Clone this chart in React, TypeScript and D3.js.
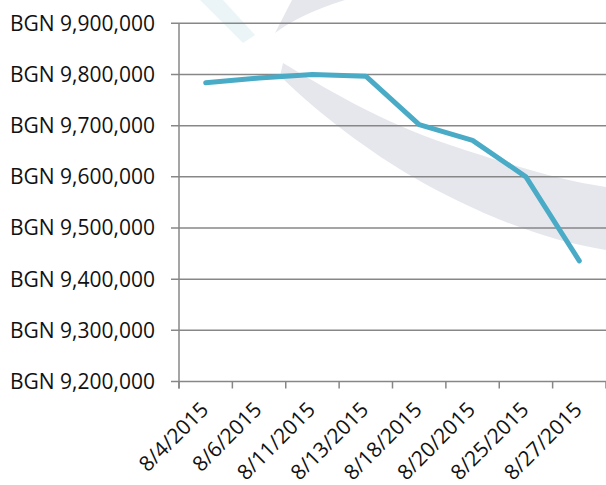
import * as d3 from "d3";

const DATES = [
	"8/4/2015",
	"8/6/2015",
	"8/11/2015",
	"8/13/2015",
	"8/18/2015",
	"8/20/2015",
	"8/25/2015",
	"8/27/2015",
];
const BALANCES = [9783600, 9793000, 9800000, 9796700, 9702000, 9671300, 9600000, 9435800];
const Y_TICKS = [9200000, 9300000, 9400000, 9500000, 9600000, 9700000, 9800000, 9900000];

const W = 606;
const H = 485;
const FONT = "'Open Sans', sans-serif";

export default function App() {
	const margin = { top: 23.3, right: 0, bottom: 103.5, left: 179 };

	const x = d3.scaleBand<string>()
		.domain(DATES)
		.range([margin.left, W - margin.right])
		.paddingInner(0)
		.paddingOuter(0);

	const y = d3.scaleLinear()
		.domain([9200000, 9900000])
		.range([H - margin.bottom, margin.top]);

	const fmt = d3.format(",");
	const line = d3.line<number>()
		.x((_, i) => x(DATES[i])! + x.bandwidth() / 2)
		.y(d => y(d));

	const axisY = y(9200000);
	// tick marks sit between categories (band edges)
	const bandEdges = DATES.map(d => x(d)!).concat([x(DATES[DATES.length - 1])! + x.bandwidth()]);

	return (
		<svg width={W} height={H} style={{ position: "absolute", left: 0, top: 0, background: "#fff" }}>
			{/* faint logo watermark behind the plot */}
			<g>
				<path
					d="M283,63 C320,85 380,122 450,145 S560,180 606,187 L606,250 C540,240 470,210 413,177 C370,152 320,115 280,76 Z"
					fill="#e6e7ed"
				/>
				<path d="M275,33 L292,0 L345,0 Q300,14 275,33 Z" fill="#e6e7ed" />
				<path d="M200,0 L223,0 L255,35 L243,43 Z" fill="#ebf5f7" />
			</g>

			{/* gridlines */}
			{Y_TICKS.map(t => (
				<line
					key={t}
					x1={margin.left - 8}
					x2={W}
					y1={y(t)}
					y2={y(t)}
					stroke="#878787"
					strokeWidth={1.5}
				/>
			))}

			{/* y axis line */}
			<line x1={margin.left} x2={margin.left} y1={margin.top} y2={axisY + 7} stroke="#878787" strokeWidth={1.5} />

			{/* x ticks */}
			{bandEdges.map((e, i) => (
				<line key={i} x1={e} x2={e} y1={axisY} y2={axisY + 7} stroke="#878787" strokeWidth={1.5} />
			))}

			{/* y labels */}
			{Y_TICKS.map(t => (
				<text
					key={t}
					x={155}
					y={y(t)}
					dy={7.4}
					textAnchor="end"
					fontFamily={FONT}
					fontSize={21}
					fill="#111"
				>
					{"BGN " + fmt(t)}
				</text>
			))}

			{/* x labels */}
			{DATES.map(d => {
				const cx = x(d)! + x.bandwidth() / 2 + 4;
				const cy = axisY + 29.5;
				return (
					<text
						key={d}
						transform={`translate(${cx},${cy}) rotate(-45)`}
						textAnchor="end"
						fontFamily={FONT}
						fontSize={21}
						fill="#111"
					>
						{d}
					</text>
				);
			})}

			{/* series */}
			<path
				d={line(BALANCES)!}
				fill="none"
				stroke="#4aabc6"
				strokeWidth={5}
				strokeLinejoin="round"
				strokeLinecap="round"
			/>
		</svg>
	);
}
